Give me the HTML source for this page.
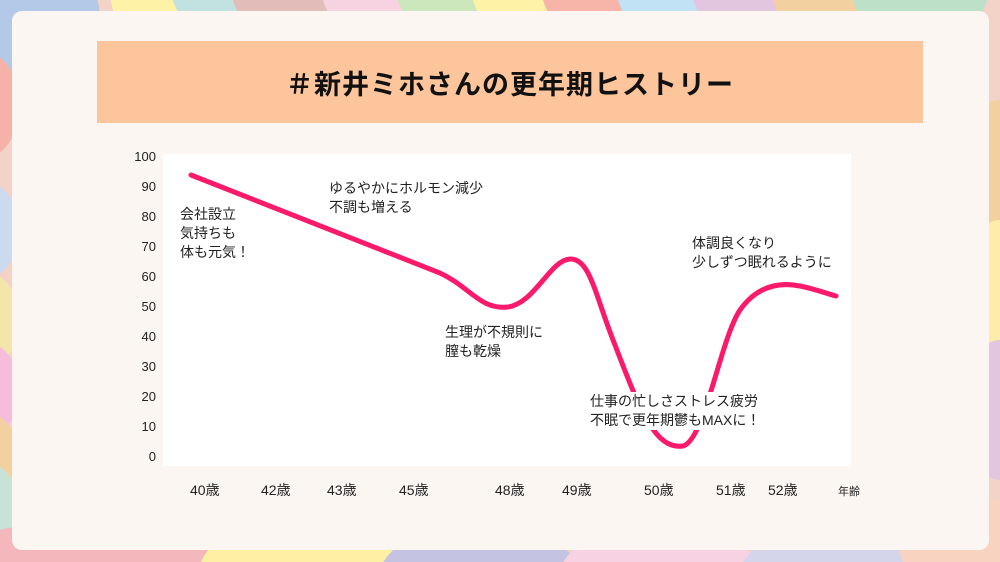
<!DOCTYPE html>
<html style="margin:0;width:1000px;height:562px;overflow:hidden"><head><meta charset="utf-8"><style>
body{margin:0;width:1000px;height:562px;overflow:hidden;position:relative;background:#f3d3c8;font-family:"Liberation Sans","Noto Sans CJK JP",sans-serif}
#w{position:absolute;left:0;top:0;width:1000px;height:562px;overflow:hidden}
.c{position:absolute;border-radius:50%}
.card{position:absolute;left:12px;top:11px;width:977px;height:539px;background:#fcf6f2;border-radius:10px}
.title{position:absolute;left:97px;top:41px;width:826px;height:82px;background:#fdc59b;display:flex;align-items:center;justify-content:center;font-size:27px;font-weight:bold;color:#111;letter-spacing:1px}
.plot{position:absolute;left:163px;top:154px;width:688px;height:312px;background:#fff}
.yl{position:absolute;left:110px;width:46px;text-align:right;font-size:13px;color:#222}
.xl{position:absolute;top:480px;font-size:14px;color:#222}
.ann{position:absolute;font-size:14px;line-height:19px;color:#222;background:#fff;white-space:nowrap}
</style></head><body><div id="w">
<div class="c" style="left:-60px;top:-60px;width:160px;height:160px;background:#b4c8e8"></div>
<div class="c" style="left:110px;top:-80px;width:140px;height:140px;background:#fdf2a6"></div>
<div class="c" style="left:170px;top:-90px;width:140px;height:140px;background:#c2e2e2"></div>
<div class="c" style="left:230px;top:-90px;width:140px;height:140px;background:#e2bcb8"></div>
<div class="c" style="left:320px;top:-90px;width:140px;height:140px;background:#f7d3e2"></div>
<div class="c" style="left:395px;top:-90px;width:140px;height:140px;background:#cde7bd"></div>
<div class="c" style="left:470px;top:-90px;width:140px;height:140px;background:#fdf2a6"></div>
<div class="c" style="left:540px;top:-90px;width:140px;height:140px;background:#f7b4a8"></div>
<div class="c" style="left:615px;top:-90px;width:140px;height:140px;background:#c0e2f4"></div>
<div class="c" style="left:690px;top:-90px;width:140px;height:140px;background:#e2c6e0"></div>
<div class="c" style="left:770px;top:-90px;width:140px;height:140px;background:#f3d0a0"></div>
<div class="c" style="left:850px;top:-90px;width:140px;height:140px;background:#bce0c8"></div>
<div class="c" style="left:-60px;top:50px;width:80px;height:110px;background:#f6b2a8"></div>
<div class="c" style="left:-60px;top:180px;width:80px;height:100px;background:#ccdaf0"></div>
<div class="c" style="left:-60px;top:270px;width:80px;height:100px;background:#f3e6a8"></div>
<div class="c" style="left:-60px;top:340px;width:80px;height:100px;background:#f5bcdc"></div>
<div class="c" style="left:-60px;top:410px;width:80px;height:100px;background:#f3d0a0"></div>
<div class="c" style="left:-60px;top:460px;width:80px;height:100px;background:#c9e2d8"></div>
<div class="c" style="left:-60px;top:520px;width:300px;height:100px;background:#f4b8bc"></div>
<div class="c" style="left:200px;top:520px;width:200px;height:100px;background:#fdf0a2"></div>
<div class="c" style="left:380px;top:525px;width:200px;height:100px;background:#c4c4e2"></div>
<div class="c" style="left:560px;top:525px;width:200px;height:100px;background:#f7d2e2"></div>
<div class="c" style="left:740px;top:525px;width:200px;height:100px;background:#d4d4ea"></div>
<div class="c" style="left:900px;top:500px;width:200px;height:100px;background:#f8d4c0"></div>
<div class="c" style="left:960px;top:100px;width:80px;height:140px;background:#f3d0a0"></div>
<div class="c" style="left:960px;top:220px;width:80px;height:140px;background:#fdecaa"></div>
<div class="c" style="left:960px;top:340px;width:80px;height:140px;background:#e2c6e0"></div>
<div class="card"></div>
<div class="title">＃新井ミホさんの更年期ヒストリー</div>
<div class="plot"></div>
<div class="yl" style="top:149px">100</div>
<div class="yl" style="top:179px">90</div>
<div class="yl" style="top:209px">80</div>
<div class="yl" style="top:239px">70</div>
<div class="yl" style="top:269px">60</div>
<div class="yl" style="top:299px">50</div>
<div class="yl" style="top:329px">40</div>
<div class="yl" style="top:359px">30</div>
<div class="yl" style="top:389px">20</div>
<div class="yl" style="top:419px">10</div>
<div class="yl" style="top:449px">0</div>
<svg style="position:absolute;left:0;top:0" width="1000" height="562">
<path d="M191,175 L440,273 C470,287 480,310 508,307 C535,303 550,260 570,259 C590,258 595,295 615,345 C640,410 655,450 683,446 C705,440 720,340 740,310 C760,282 785,283 800,286 C815,289 825,293 836,296" fill="none" stroke="#fa1a6c" stroke-width="5" stroke-linecap="round"/>
</svg>
<div class="ann" style="left:180px;top:205px;background:none">会社設立<br>気持ちも<br>体も元気！</div>
<div class="ann" style="left:329px;top:179px">ゆるやかにホルモン減少<br>不調も増える</div>
<div class="ann" style="left:445px;top:323px">生理が不規則に<br>膣も乾燥</div>
<div class="ann" style="left:590px;top:392px">仕事の忙しさストレス疲労<br>不眠で更年期鬱もMAXに！</div>
<div class="ann" style="left:692px;top:234px">体調良くなり<br>少しずつ眠れるように</div>
<div class="xl" style="left:190px">40歳</div>
<div class="xl" style="left:261px">42歳</div>
<div class="xl" style="left:327px">43歳</div>
<div class="xl" style="left:399px">45歳</div>
<div class="xl" style="left:495px">48歳</div>
<div class="xl" style="left:562px">49歳</div>
<div class="xl" style="left:644px">50歳</div>
<div class="xl" style="left:716px">51歳</div>
<div class="xl" style="left:768px">52歳</div>
<div class="xl" style="left:838px;font-size:11px;top:483px">年齢</div>
</div></body></html>
